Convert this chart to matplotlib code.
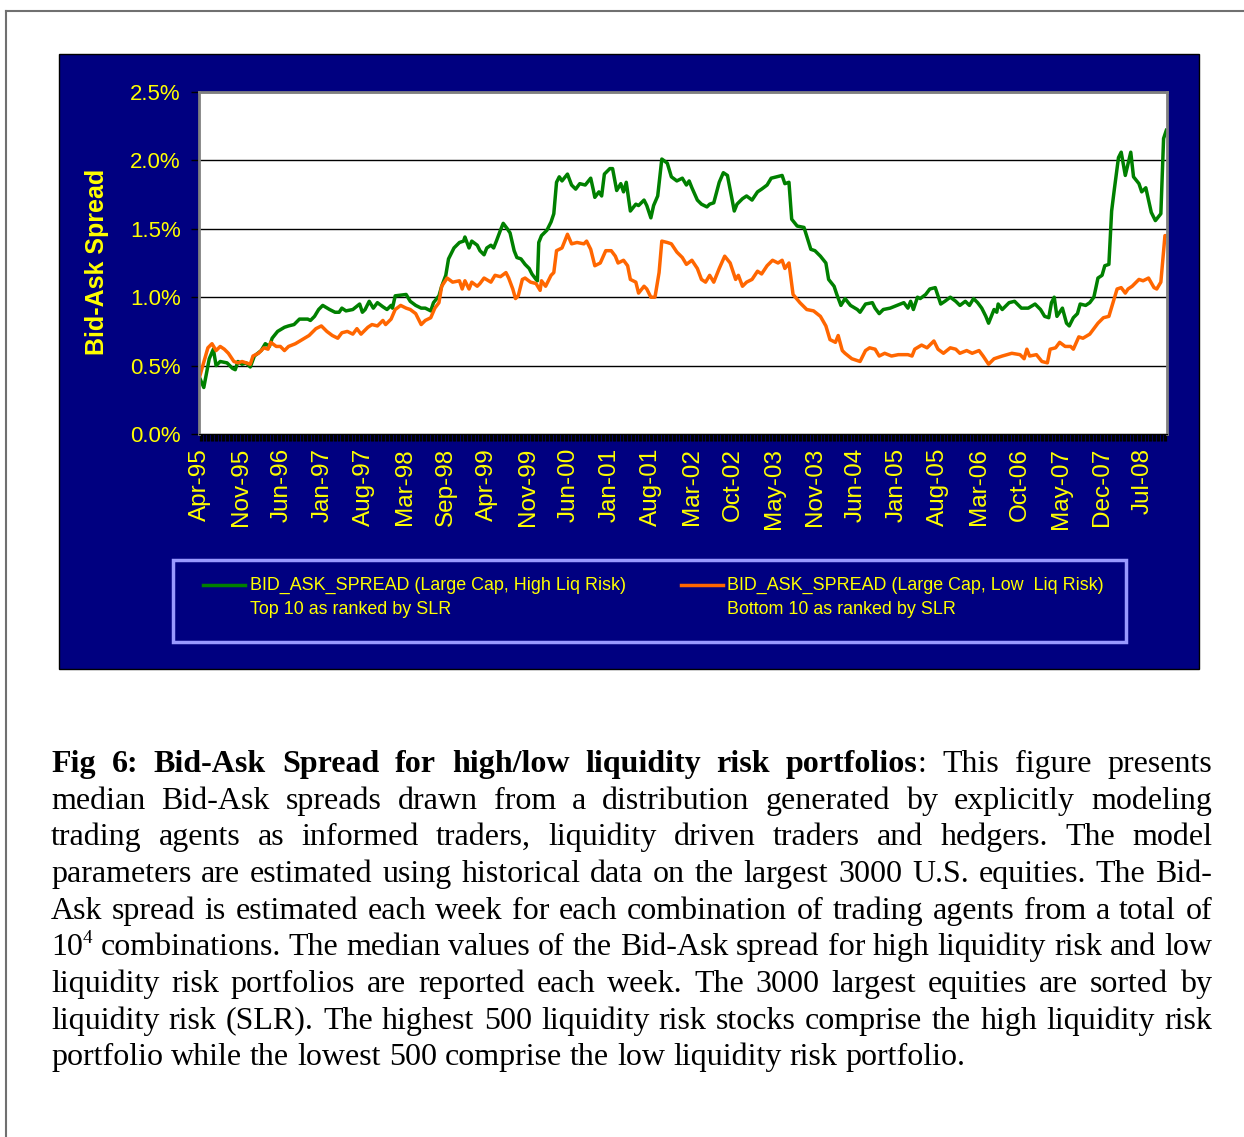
import numpy as np
import matplotlib
matplotlib.use('Agg')
import matplotlib.pyplot as plt
from matplotlib.patches import Rectangle
from matplotlib.lines import Line2D
from matplotlib.ticker import FuncFormatter

plt.rcParams['font.family'] = ['Liberation Sans', 'DejaVu Sans']

# weekly series, x = week number counted from Apr-95, value = spread in %
high_liq_risk = [
    (0, 0.41), (3, 0.34), (7, 0.55), (10, 0.62), (12, 0.50), (15, 0.53), (20, 0.52), (24, 0.48),
    (26, 0.47), (28, 0.53), (31, 0.51), (34, 0.52), (37, 0.49), (40, 0.57), (45, 0.61), (48, 0.66),
    (51, 0.64), (53, 0.70), (57, 0.75), (62, 0.78), (65, 0.79), (69, 0.80), (73, 0.84), (79, 0.84),
    (81, 0.83), (84, 0.86), (87, 0.91), (90, 0.94), (95, 0.91), (99, 0.89), (102, 0.89), (104, 0.92),
    (107, 0.90), (112, 0.91), (117, 0.95), (119, 0.89), (121, 0.91), (124, 0.97), (127, 0.92),
    (130, 0.96), (134, 0.93), (137, 0.91), (140, 0.94), (141, 0.92), (143, 1.01), (151, 1.02),
    (154, 0.97), (158, 0.94), (162, 0.92), (165, 0.92), (169, 0.90), (171, 0.96), (175, 1.01),
    (177, 1.08), (180, 1.16), (182, 1.28), (186, 1.36), (190, 1.40), (193, 1.41), (194, 1.44),
    (197, 1.36), (199, 1.41), (203, 1.38), (205, 1.34), (208, 1.31), (210, 1.36), (213, 1.38),
    (215, 1.36), (217, 1.41), (220, 1.49), (222, 1.54), (225, 1.50), (227, 1.47), (230, 1.34),
    (232, 1.29), (235, 1.28), (238, 1.24), (241, 1.21), (243, 1.17), (246, 1.13), (247, 1.12),
    (248, 1.40), (250, 1.45), (254, 1.49), (257, 1.55), (259, 1.61), (261, 1.84), (263, 1.88),
    (265, 1.85), (269, 1.90), (272, 1.82), (275, 1.79), (278, 1.83), (282, 1.82), (286, 1.87),
    (288, 1.78), (289, 1.73), (292, 1.77), (294, 1.74), (296, 1.90), (300, 1.94), (302, 1.94),
    (305, 1.78), (308, 1.83), (310, 1.77), (312, 1.84), (315, 1.63), (319, 1.68), (321, 1.67),
    (325, 1.71), (327, 1.67), (330, 1.58), (332, 1.67), (335, 1.74), (338, 2.01), (342, 1.98),
    (345, 1.88), (349, 1.85), (353, 1.87), (356, 1.82), (358, 1.85), (360, 1.80), (364, 1.71),
    (367, 1.68), (371, 1.66), (373, 1.68), (376, 1.69), (380, 1.84), (383, 1.91), (386, 1.89),
    (391, 1.63), (393, 1.68), (397, 1.72), (400, 1.74), (404, 1.71), (408, 1.77), (411, 1.79),
    (415, 1.82), (418, 1.87), (422, 1.88), (426, 1.89), (428, 1.83), (431, 1.84), (433, 1.57),
    (437, 1.52), (442, 1.51), (447, 1.35), (450, 1.34), (454, 1.30), (458, 1.25), (460, 1.13),
    (464, 1.08), (466, 1.02), (469, 0.94), (472, 0.99), (476, 0.94), (481, 0.91), (483, 0.89),
    (487, 0.95), (492, 0.96), (494, 0.92), (497, 0.88), (500, 0.91), (505, 0.92), (510, 0.94),
    (515, 0.96), (518, 0.92), (520, 0.97), (522, 0.91), (525, 1.00), (527, 0.99), (531, 1.02),
    (534, 1.06), (538, 1.07), (542, 0.95), (545, 0.97), (549, 1.00), (553, 0.97), (556, 0.94),
    (560, 0.97), (563, 0.94), (566, 0.99), (569, 0.96), (572, 0.92), (575, 0.86), (577, 0.81),
    (581, 0.91), (583, 0.89), (584, 0.95), (587, 0.91), (592, 0.96), (596, 0.97), (601, 0.92),
    (606, 0.92), (611, 0.95), (615, 0.91), (618, 0.86), (621, 0.85), (623, 0.96), (625, 1.00),
    (627, 0.86), (631, 0.92), (634, 0.81), (636, 0.79), (639, 0.85), (642, 0.88), (644, 0.95),
    (648, 0.94), (651, 0.96), (654, 1.00), (657, 1.14), (660, 1.16), (662, 1.23), (665, 1.24),
    (667, 1.63), (669, 1.79), (672, 2.02), (674, 2.06), (677, 1.89), (681, 2.06), (683, 1.88),
    (687, 1.83), (689, 1.77), (692, 1.80), (694, 1.71), (696, 1.62), (699, 1.56), (703, 1.61),
    (705, 2.16), (707, 2.22),
]

low_liq_risk = [
    (0, 0.42), (6, 0.63), (9, 0.66), (12, 0.61), (15, 0.64), (18, 0.62), (21, 0.59), (25, 0.53),
    (28, 0.52), (31, 0.53), (34, 0.52), (37, 0.51), (39, 0.57), (43, 0.59), (47, 0.63), (50, 0.62),
    (52, 0.67), (56, 0.64), (59, 0.64), (62, 0.61), (65, 0.64), (70, 0.66), (75, 0.69), (80, 0.72),
    (85, 0.77), (89, 0.79), (93, 0.75), (97, 0.72), (101, 0.70), (104, 0.74), (108, 0.75),
    (112, 0.73), (115, 0.77), (118, 0.73), (123, 0.78), (126, 0.80), (130, 0.79), (134, 0.83),
    (136, 0.80), (140, 0.84), (143, 0.91), (147, 0.94), (151, 0.92), (154, 0.91), (158, 0.88),
    (162, 0.80), (165, 0.83), (169, 0.85), (172, 0.92), (175, 0.96), (177, 1.08), (181, 1.14),
    (185, 1.11), (190, 1.12), (192, 1.06), (194, 1.12), (197, 1.06), (199, 1.11), (203, 1.08),
    (205, 1.10), (208, 1.14), (213, 1.11), (216, 1.16), (220, 1.15), (224, 1.18), (226, 1.14),
    (229, 1.06), (231, 0.99), (233, 1.01), (236, 1.13), (238, 1.14), (242, 1.11), (246, 1.10),
    (249, 1.05), (250, 1.12), (253, 1.08), (257, 1.16), (259, 1.18), (261, 1.34), (265, 1.36),
    (269, 1.46), (272, 1.39), (276, 1.40), (281, 1.39), (283, 1.41), (286, 1.35), (289, 1.23),
    (293, 1.25), (297, 1.34), (301, 1.34), (304, 1.30), (306, 1.25), (310, 1.27), (313, 1.23),
    (315, 1.13), (319, 1.11), (321, 1.03), (325, 1.08), (327, 1.06), (330, 1.00), (333, 1.00),
    (336, 1.18), (338, 1.41), (342, 1.40), (345, 1.39), (349, 1.33), (353, 1.29), (356, 1.24),
    (360, 1.27), (364, 1.21), (367, 1.13), (370, 1.11), (373, 1.16), (376, 1.11), (380, 1.21),
    (384, 1.30), (388, 1.25), (392, 1.13), (394, 1.16), (397, 1.08), (400, 1.11), (404, 1.13),
    (408, 1.19), (411, 1.17), (415, 1.23), (419, 1.27), (423, 1.25), (426, 1.27), (428, 1.21),
    (431, 1.25), (434, 1.02), (439, 0.96), (444, 0.91), (449, 0.90), (454, 0.86), (458, 0.79),
    (461, 0.69), (465, 0.67), (467, 0.72), (470, 0.61), (472, 0.59), (477, 0.55), (483, 0.53),
    (487, 0.61), (490, 0.63), (494, 0.62), (497, 0.57), (501, 0.59), (506, 0.57), (511, 0.58),
    (518, 0.58), (521, 0.57), (523, 0.62), (528, 0.65), (532, 0.63), (537, 0.68), (540, 0.62),
    (544, 0.59), (549, 0.63), (553, 0.62), (556, 0.59), (561, 0.61), (565, 0.59), (570, 0.61),
    (573, 0.57), (577, 0.51), (581, 0.55), (587, 0.57), (594, 0.59), (600, 0.58), (603, 0.55),
    (605, 0.62), (607, 0.57), (612, 0.58), (616, 0.53), (620, 0.52), (622, 0.62), (626, 0.63),
    (629, 0.67), (633, 0.64), (637, 0.64), (639, 0.62), (643, 0.71), (646, 0.70), (651, 0.73),
    (657, 0.81), (661, 0.85), (665, 0.86), (668, 0.96), (671, 1.06), (674, 1.07), (677, 1.03),
    (679, 1.06), (682, 1.08), (684, 1.10), (687, 1.13), (690, 1.12), (694, 1.14), (698, 1.07),
    (700, 1.06), (703, 1.11), (706, 1.45), (707, 1.45),
]

n_weeks = 708
tick_labels = ['Apr-95', 'Nov-95', 'Jun-96', 'Jan-97', 'Aug-97', 'Mar-98', 'Sep-98', 'Apr-99',
               'Nov-99', 'Jun-00', 'Jan-01', 'Aug-01', 'Mar-02', 'Oct-02', 'May-03', 'Nov-03',
               'Jun-04', 'Jan-05', 'Aug-05', 'Mar-06', 'Oct-06', 'May-07', 'Dec-07', 'Jul-08']
tick_step = 30  # one label every 30 weeks
y_ticks = [0.0, 0.5, 1.0, 1.5, 2.0, 2.5]

legend_labels = [('BID_ASK_SPREAD (Large Cap, High Liq Risk)', 'Top 10 as ranked by SLR'),
                 ('BID_ASK_SPREAD (Large Cap, Low  Liq Risk)', 'Bottom 10 as ranked by SLR')]

caption_lines = [
    "**Fig 6: Bid-Ask Spread for high/low liquidity risk portfolios**: This figure presents",
    "median Bid-Ask spreads drawn from a distribution generated by explicitly modeling",
    "trading agents as informed traders, liquidity driven traders and hedgers. The model",
    "parameters are estimated using historical data on the largest 3000 U.S. equities. The Bid-",
    "Ask spread is estimated each week for each combination of trading agents from a total of",
    "10^4 combinations. The median values of the Bid-Ask spread for high liquidity risk and low",
    "liquidity risk portfolios are reported each week. The 3000 largest equities are sorted by",
    "liquidity risk (SLR). The highest 500 liquidity risk stocks comprise the high liquidity risk",
    "portfolio while the lowest 500 comprise the low liquidity risk portfolio.",
]

NAVY = '#000080'
YELLOW = '#FFFF00'
GREEN = '#008000'
ORANGE = '#FF6600'

W, H = 1244, 1137


def fx(x):
    return x / W


def fy(y):
    return 1 - y / H


fig = plt.figure(figsize=(W / 100, H / 100), dpi=100)
fig.patch.set_facecolor('white')

# page frame
fig.add_artist(Line2D([fx(6), fx(6)], [fy(11), 0], color='#707070', lw=1.5))
fig.add_artist(Line2D([fx(6), 1], [fy(11), fy(11)], color='#707070', lw=1.5))

# navy chart panel
fig.add_artist(Rectangle((fx(59), fy(669)), fx(1199) - fx(59), fy(54) - fy(669),
                         facecolor=NAVY, edgecolor='black', lw=1, zorder=-1))

ax = fig.add_axes([fx(199), fy(434), fx(1167) - fx(199), fy(92) - fy(434)])
ax.set_facecolor('white')

gw, gv = np.array(high_liq_risk).T
ow, ov = np.array(low_liq_risk).T
ax.plot(gw, gv, color=GREEN, lw=2.5, solid_joinstyle='round')
ax.plot(ow, ov, color=ORANGE, lw=2.5, solid_joinstyle='round')

ax.set_xlim(-0.5, n_weeks - 0.5)
ax.set_ylim(0, 2.5)
ax.set_yticks(y_ticks)
ax.yaxis.set_major_formatter(FuncFormatter(lambda v, p: f'{v:.1f}%'))
ax.yaxis.grid(True, color='black', lw=1)
ax.set_axisbelow(True)

ax.set_xticks(np.arange(len(tick_labels)) * tick_step)
ax.set_xticklabels(tick_labels, rotation=90)
ax.set_xticks(np.arange(n_weeks), minor=True)

ax.tick_params(axis='y', direction='out', length=6, width=1, color='black',
               labelcolor=YELLOW, labelsize=16, pad=7)
ax.tick_params(axis='x', which='both', direction='out', length=5, width=0.9,
               color='black', labelcolor=YELLOW, labelsize=17.5, pad=5)

for side in ['left', 'right', 'top']:
    ax.spines[side].set_color('#808080')
    ax.spines[side].set_linewidth(2)
ax.spines['bottom'].set_color('black')

fig.text(fx(97), fy(262), 'Bid-Ask Spread', rotation=90, color=YELLOW,
         fontsize=18, fontweight='bold', ha='center', va='center')

# legend box
fig.add_artist(Rectangle((fx(173), fy(642)), fx(1126) - fx(173), fy(560) - fy(642),
                         facecolor='none', edgecolor='#9999FF', lw=2.5))
for (l1, l2), color, x_line, x_text in zip(legend_labels, [GREEN, ORANGE], [203, 681], [250, 727]):
    fig.add_artist(Line2D([fx(x_line), fx(x_line + 42)], [fy(585), fy(585)], color=color, lw=2.5))
    fig.text(fx(x_text), fy(585), l1, color=YELLOW, fontsize=12.9, va='center')
    fig.text(fx(x_text), fy(609), l2, color=YELLOW, fontsize=12.9, va='center')

# caption, justified by hand
renderer = fig.canvas.get_renderer()
cap_size = 23
x_left, x_right = 51, 1212


def word_pieces(word, bold):
    pieces = []
    for i, part in enumerate(word.split('**')):
        if i > 0:
            bold = not bold
        if not part:
            continue
        if '^' in part:
            base, sup = part.split('^')
            pieces.append((base, bold, False))
            pieces.append((sup, bold, True))
        else:
            pieces.append((part, bold, False))
    return pieces, bold


bold = False
for i, line in enumerate(caption_lines):
    y = 772 + 36.65 * i
    words = []
    for w in line.split(' '):
        pieces, bold = word_pieces(w, bold)
        arts = []
        for text, b, sup in pieces:
            t = fig.text(0, fy(y - 12 if sup else y), text,
                         fontsize=cap_size * (0.6 if sup else 1),
                         fontweight='bold' if b else 'normal',
                         family='Liberation Serif', va='baseline', ha='left')
            arts.append(t)
        words.append((arts, [t.get_window_extent(renderer).width for t in arts]))
    total = sum(sum(ws) for _, ws in words)
    if i < len(caption_lines) - 1:
        gap = (x_right - x_left - total) / (len(words) - 1)
    else:
        gap = cap_size * 100 / 72 * 0.25
    x = x_left
    for arts, ws in words:
        for t, wd in zip(arts, ws):
            t.set_x(fx(x))
            x += wd
        x += gap

fig.savefig('out.png', dpi=100)
